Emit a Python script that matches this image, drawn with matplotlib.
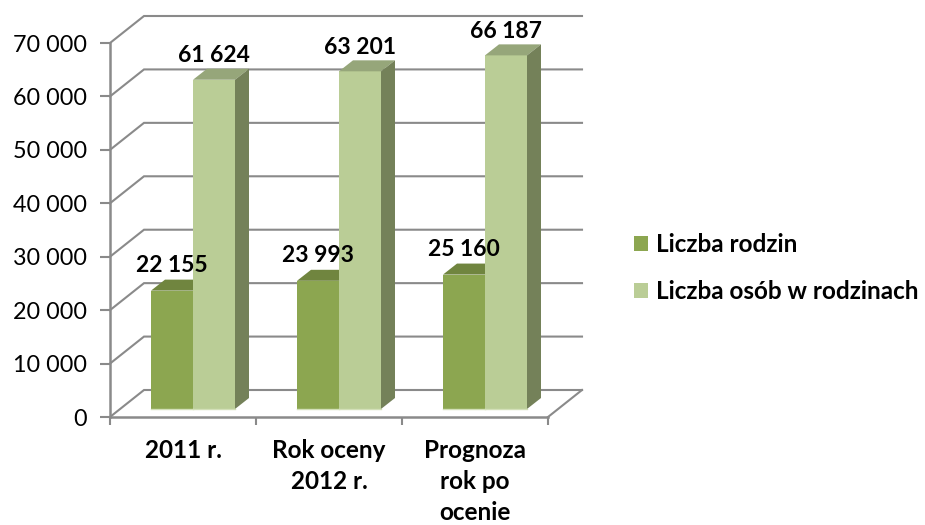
import matplotlib
matplotlib.use('Agg')
import numpy as np
import matplotlib.pyplot as plt
from matplotlib.patches import Polygon, Patch

categories = ['2011 r.', 'Rok oceny\n2012 r.', 'Prognoza\nrok po\nocenie']
rodziny = [22155, 23993, 25160]
osoby = [61624, 63201, 66187]
series_names = ['Liczba rodzin', 'Liczba osób w rodzinach']
y_ticks = [0, 10000, 20000, 30000, 40000, 50000, 60000, 70000]
y_tick_labels = ['0', '10 000', '20 000', '30 000', '40 000', '50 000', '60 000', '70 000']

plt.rcParams['font.family'] = ['Lato', 'DejaVu Sans']

W, H = 925, 525
L, R, T, B = 110, 548, 43, 417
GRID = '#8a8a8a'

fig = plt.figure(figsize=(W / 100, H / 100), dpi=100, facecolor='white')
ax = fig.add_axes([L / W, 1 - B / H, (R - L) / W, (B - T) / H])
ax.set_xlim(0, 3)
ax.set_ylim(0, 70000)

# pixels -> data, for the fake 3D depth
px_x = 3 / (R - L)
px_y = 70000 / (B - T)


def shift(x, y, dx, dy):
    return x + dx * px_x, y + dy * px_y


# walls and floor
back_dx, back_dy = 34, 27
for v in y_ticks:
    x1, y1 = shift(0, v, back_dx, back_dy)
    x2, y2 = shift(3, v, back_dx, back_dy)
    ax.plot([0, x1, x2], [v, y1, y2], color=GRID, lw=1.5, clip_on=False, zorder=1,
            solid_joinstyle='miter')
x3, y3 = shift(3, 0, back_dx, back_dy)
ax.plot([3, x3], [0, y3], color=GRID, lw=1.5, clip_on=False, zorder=1)


def draw_bar(left, width, value, front, top_col, side_col):
    # front of the bar sits a bit inside the floor
    x0, y0 = shift(left, 0, 10, 8)
    x1, y1 = shift(left + width, value, 10, 8)
    ax.add_patch(plt.Rectangle((x0, y0), x1 - x0, y1 - y0, fc=front, ec='none',
                               clip_on=False, zorder=3))
    bx0, by1 = shift(x0, y1, 14, 11)
    bx1, by0 = shift(x1, y0, 14, 11)
    ax.add_patch(Polygon([(x0, y1), (x1, y1), (bx1, by1), (bx0, by1)], fc=top_col, ec='none',
                         clip_on=False, zorder=3))
    ax.add_patch(Polygon([(x1, y0), (x1, y1), (bx1, by1), (bx1, by0)], fc=side_col, ec='none',
                         clip_on=False, zorder=3))
    ax.plot([x0, x1], [y0, y0], color='#d3e0b8', lw=1, clip_on=False, zorder=4)
    return (x0 + x1) / 2, y1


bar_w = 42 * px_x
gap = 31 * px_x
for i in range(3):
    left = i + gap
    cx, top = draw_bar(left, bar_w, rodziny[i], '#8ca650', '#70853f', '#6d7f45')
    ax.text(cx, top + 25 * px_y, f'{rodziny[i]:,}'.replace(',', ' '), ha='center', va='center',
            fontsize=16.5, fontweight='bold', color='black', zorder=6, clip_on=False)
    cx, top = draw_bar(left + bar_w, bar_w, osoby[i], '#bacd96', '#96a67a', '#748159')
    ax.text(cx, top + 24 * px_y, f'{osoby[i]:,}'.replace(',', ' '), ha='center', va='center',
            fontsize=16.5, fontweight='bold', color='black', zorder=6, clip_on=False)

for s in ['top', 'right']:
    ax.spines[s].set_visible(False)
for s in ['left', 'bottom']:
    ax.spines[s].set_color(GRID)
    ax.spines[s].set_linewidth(1.8)

ax.set_yticks(y_ticks)
ax.set_yticklabels(y_tick_labels, fontsize=16.8, color='black')
ax.tick_params(axis='y', length=7, width=1.5, color=GRID, pad=9.3)

ax.set_xticks([0, 1, 2, 3])
ax.set_xticklabels([])
ax.tick_params(axis='x', length=6, width=1.5, color=GRID)
ax.set_xticks([0.5, 1.5, 2.5], minor=True)
ax.set_xticklabels(categories, minor=True, fontsize=17.5, fontweight='bold', linespacing=1.42)
ax.tick_params(axis='x', which='minor', length=0, pad=16)

handles = [Patch(fc='#8ca650', ec='none'), Patch(fc='#bacd96', ec='none')]
fig.legend(handles, series_names, loc='center left', bbox_to_anchor=(627 / W, 1 - 268 / H),
           frameon=False, prop={'size': 17.5, 'weight': 'bold'}, handlelength=0.58, handleheight=0.58,
           handletextpad=0.33, labelspacing=1.0, borderpad=0.3, borderaxespad=0)

fig.savefig('out.png', dpi=100)
